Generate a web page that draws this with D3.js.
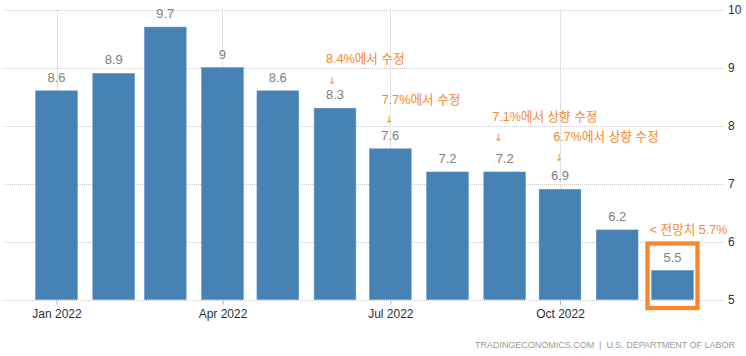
<!DOCTYPE html>
<html><head><meta charset="utf-8">
<script src="https://cdn.jsdelivr.net/npm/d3@7"></script>
<style>
html,body{margin:0;padding:0;background:#fff;}
svg{display:block;font-family:"Liberation Sans","Noto Sans CJK KR",Arial,sans-serif;}
</style></head>
<body><svg id="c" width="746" height="356"></svg>
<script>
// ---- data ----
const months = ["2022-01","2022-02","2022-03","2022-04","2022-05","2022-06","2022-07","2022-08","2022-09","2022-10","2022-11","2022-12"];
const values = [8.6, 8.9, 9.7, 9, 8.6, 8.3, 7.6, 7.2, 7.2, 6.9, 6.2, 5.5];
const valueLabels = ["8.6","8.9","9.7","9","8.6","8.3","7.6","7.2","7.2","6.9","6.2","5.5"];
const yTicks = [5, 6, 7, 8, 9, 10];
const xTickDates = ["2022-01-01","2022-04-01","2022-07-01","2022-10-01"];
const xTickLabels = ["Jan 2022","Apr 2022","Jul 2022","Oct 2022"];
const annotationMonths = ["2022-06","2022-07","2022-09","2022-10"];
const annotationTexts = ["8.4%에서 수정","7.7%에서 수정","7.1%에서 상향 수정","6.7%에서 상향 수정"];
const forecastMonth = "2022-12";
const forecastText = "< 전망치 5.7%";
const footerText = "TRADINGECONOMICS.COM  |  U.S. DEPARTMENT OF LABOR";

// ---- layout (pixel offsets, not data) ----
const annLayout = [
  {tdx:-9,  tdy:-45, adx:-3, ady:-24},
  {tdx:-8.5,tdy:-45, adx:-1.5, ady:-26},
  {tdx:-12.5,tdy:-51,adx:-6.5, ady:-31},
  {tdx:-6.7,tdy:-48, adx:-1, ady:-28}
];

const parseM = d3.timeParse("%Y-%m");
const parseD = d3.timeParse("%Y-%m-%d");
const svg = d3.select("#c");

const x0 = parseD("2022-01-01"), x1 = parseD("2022-10-01");
const x = d3.scaleTime().domain([x0, x1]).range([56.5, 560]);
const y = d3.scaleLinear().domain([5, 10]).range([299.5, 9.7]);
const barW = 41.7;
const gridL = 4, gridR = 724;
const orange = "#f7862e";

// horizontal grid
svg.append("g").selectAll("line").data(yTicks).join("line")
  .attr("x1", gridL).attr("x2", gridR)
  .attr("y1", d => Math.round(y(d)) + 0.5).attr("y2", d => Math.round(y(d)) + 0.5)
  .attr("stroke", "#c8c8c8").attr("stroke-dasharray", "1,1");

// vertical grid
svg.append("g").selectAll("line").data(xTickDates).join("line")
  .attr("x1", d => Math.round(x(parseD(d))) + 0.5).attr("x2", d => Math.round(x(parseD(d))) + 0.5)
  .attr("y1", y(10)).attr("y2", y(5))
  .attr("stroke", "#c8c8c8").attr("stroke-dasharray", "1,1");

// bars
svg.append("g").selectAll("rect").data(values).join("rect")
  .attr("x", (d, i) => x(parseM(months[i])) - barW / 2)
  .attr("width", barW)
  .attr("y", d => y(d))
  .attr("height", d => y(5) - y(d))
  .attr("fill", "#4682b4")
  .attr("stroke", "#5d93c3").attr("stroke-width", 0.6);

// value labels
svg.append("g").selectAll("text").data(values).join("text")
  .attr("x", (d, i) => x(parseM(months[i])))
  .attr("y", d => y(d) - 9)
  .attr("text-anchor", "middle")
  .attr("font-size", 13)
  .attr("fill", "#808080")
  .text((d, i) => valueLabels[i]);

// x axis
const xAxis = d3.axisBottom(x)
  .tickValues(xTickDates.map(parseD))
  .tickFormat((d, i) => xTickLabels[i])
  .tickSize(4).tickPadding(3);
const gx = svg.append("g").attr("transform", `translate(0,${Math.round(y(5)) + 0.5})`).call(xAxis);
gx.select(".domain").remove();
gx.selectAll(".tick line").attr("stroke", "#b0b0b0");
gx.selectAll(".tick text").attr("font-size", 12).attr("fill", "#2e2e3a")
  .attr("font-family", "Liberation Sans, Arial, sans-serif").attr("dy", "0.85em");

// y axis (right)
const yAxis = d3.axisRight(y).tickValues(yTicks).tickFormat(d3.format("d")).tickSize(0).tickPadding(0);
const gy = svg.append("g").attr("transform", "translate(728,0)").call(yAxis);
gy.select(".domain").remove();
gy.selectAll(".tick text").attr("font-size", 12).attr("fill", "#2e2e3a")
  .attr("font-family", "Liberation Sans, Arial, sans-serif");

// annotations
annotationMonths.forEach((m, i) => {
  const cx = x(parseM(m));
  const v = values[months.indexOf(m)];
  const top = y(v);
  const L = annLayout[i];
  svg.append("text").attr("x", cx + L.tdx).attr("y", top + L.tdy)
    .attr("font-size", 12.6).attr("fill", orange).text(annotationTexts[i]);
  svg.append("text").attr("x", cx + L.adx).attr("y", top + L.ady)
    .attr("font-size", 10).attr("text-anchor", "middle").attr("fill", orange)
    .attr("font-family", "DejaVu Sans, sans-serif").text("↓");
});

// forecast note and highlight box
{
  const cx = x(parseM(forecastMonth));
  const v = values[months.indexOf(forecastMonth)];
  const top = y(v);
  svg.append("text").attr("x", cx - 22.8).attr("y", top - 36.5)
    .attr("font-size", 12.6).attr("fill", orange).text(forecastText);
  svg.append("rect")
    .attr("x", cx - 25).attr("y", top - 27)
    .attr("width", 50).attr("height", y(5) + 8.5 - (top - 27))
    .attr("fill", "none").attr("stroke", orange).attr("stroke-width", 4.3);
}

// footer
svg.append("text").attr("x", 475).attr("y", 348.3)
  .attr("font-size", 9).attr("fill", "#9a9a9a")
  .attr("textLength", 260).attr("lengthAdjust", "spacing")
  .attr("xml:space", "preserve")
  .text(footerText);
</script></body></html>
